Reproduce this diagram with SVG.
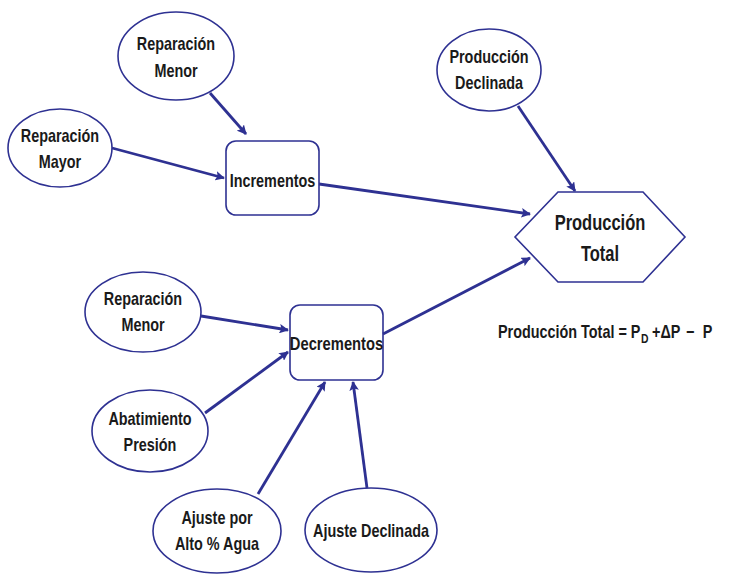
<svg xmlns="http://www.w3.org/2000/svg" width="732" height="584" viewBox="0 0 732 584">
<style>
.n{fill:#fff;stroke:#2E3192;stroke-width:1.6}
.t{font-family:"Liberation Sans",Arial,sans-serif;font-weight:bold;font-size:18px;fill:#1a1a1a;text-anchor:middle}
.big{font-size:22px}
.s{text-anchor:start}
.c line{stroke:#2E3192;stroke-width:2.8;marker-end:url(#ah)}
</style>
<defs>
<marker id="ah" viewBox="0 0 10 10" refX="9" refY="5" markerWidth="3.4" markerHeight="3.4" orient="auto" markerUnits="strokeWidth">
<path d="M0,0 L10,5 L0,10 L2,5 z" fill="#2E3192"/>
</marker>
</defs>
<rect width="732" height="584" fill="#fff"/>
<g id="rep-menor-1"><ellipse class="n" cx="176" cy="56" rx="58" ry="44"/><g transform="matrix(0.8 0 0 1 35.2 0)"><text class="t" x="176" y="50">Reparación</text><text class="t" x="176" y="77">Menor</text></g></g>
<g id="rep-mayor"><ellipse class="n" cx="60" cy="148" rx="52" ry="39"/><g transform="matrix(0.8 0 0 1 12 0)"><text class="t" x="60" y="142">Reparación</text><text class="t" x="60" y="168">Mayor</text></g></g>
<g id="prod-declinada"><ellipse class="n" cx="489" cy="70" rx="52" ry="41"/><g transform="matrix(0.8 0 0 1 97.8 0)"><text class="t" x="489" y="63">Producción</text><text class="t" x="489" y="89">Declinada</text></g></g>
<g id="incrementos"><rect class="n" x="226" y="141" width="93" height="74" rx="10"/><g transform="matrix(0.8 0 0 1 54.5 0)"><text class="t" x="272.5" y="187">Incrementos</text></g></g>
<g id="prod-total"><polygon class="n" points="558,192 643,192 685,237 643,282 558,282 515,237"/><g transform="matrix(0.75 0 0 1 150 0)"><text class="t big" x="600" y="230">Producción</text><text class="t big" x="600" y="261">Total</text></g></g>
<g id="formula" transform="translate(498 0) scale(0.8 1)"><text class="t s" x="0" y="338">Producción Total = P</text><text class="t s" x="178.75" y="343" style="font-size:13px">D</text><text class="t s" x="192.5" y="338">+ΔP</text><text class="t s" x="235" y="338">−</text><text class="t s" x="256" y="338">P</text></g>
<g id="decrementos"><rect class="n" x="290" y="305" width="93" height="75" rx="10"/><g transform="matrix(0.82 0 0 1 60.6 0)"><text class="t" x="336.5" y="350">Decrementos</text></g></g>
<g id="rep-menor-2"><ellipse class="n" cx="143" cy="312" rx="58" ry="40"/><g transform="matrix(0.8 0 0 1 28.6 0)"><text class="t" x="143" y="305">Reparación</text><text class="t" x="143" y="331">Menor</text></g></g>
<g id="abatimiento"><ellipse class="n" cx="150" cy="431" rx="58" ry="41"/><g transform="matrix(0.8 0 0 1 30 0)"><text class="t" x="150" y="425">Abatimiento</text><text class="t" x="150" y="451">Presión</text></g></g>
<g id="ajuste-agua"><ellipse class="n" cx="217" cy="531" rx="64" ry="42"/><g transform="matrix(0.8 0 0 1 43.4 0)"><text class="t" x="217" y="524">Ajuste por</text><text class="t" x="217" y="550">Alto % Agua</text></g></g>
<g id="ajuste-declinada"><ellipse class="n" cx="371" cy="530" rx="66" ry="42"/><g transform="matrix(0.8 0 0 1 74.2 0)"><text class="t" x="371" y="537">Ajuste Declinada</text></g></g>
<g id="connectors" class="c">
<line x1="210" y1="93" x2="246" y2="134"/>
<line x1="112" y1="148" x2="224" y2="178"/>
<line x1="319" y1="184" x2="530" y2="214"/>
<line x1="518" y1="106" x2="575" y2="191"/>
<line x1="383" y1="334" x2="530" y2="258"/>
<line x1="201" y1="316" x2="288" y2="330"/>
<line x1="205" y1="413" x2="288" y2="352"/>
<line x1="258" y1="494" x2="325" y2="382"/>
<line x1="367" y1="488" x2="353" y2="382"/>
</g>
</svg>
